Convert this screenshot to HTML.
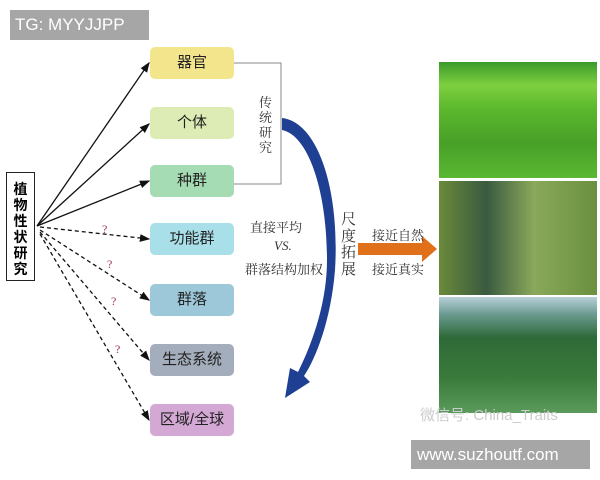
<!DOCTYPE html>
<html><head><meta charset="utf-8"><style>
body{margin:0;width:600px;height:480px;background:#fff;position:relative;overflow:hidden;font-family:"Liberation Serif","Noto Serif CJK SC","Noto Sans CJK SC",serif;}
.b{position:absolute;left:150px;width:84px;height:32px;border-radius:5px;text-align:center;line-height:32px;font-size:15px;color:#222;font-family:"Liberation Sans","Noto Sans CJK SC",sans-serif;}
.t{position:absolute;font-size:13px;color:#333;white-space:nowrap;}
</style></head><body>
<div style="position:absolute;left:10px;top:10px;width:139px;height:30px;background:#a6a6a6;color:#fff;font:17px 'Liberation Sans',sans-serif;line-height:30px;padding-left:5px;box-sizing:border-box">TG: MYYJJPP</div>
<div style="position:absolute;left:6px;top:172px;width:29px;height:109px;border:1.5px solid #222;box-sizing:border-box;font-size:14px;font-weight:bold;line-height:16px;text-align:center;padding-top:8px;font-family:'Noto Sans CJK SC',sans-serif">植<br>物<br>性<br>状<br>研<br>究</div>
<div class="b" style="top:47px;background:#f3e58c">器官</div>
<div class="b" style="top:107px;background:#dcecb4">个体</div>
<div class="b" style="top:165px;background:#a6dcb4">种群</div>
<div class="b" style="top:223px;background:#a8dfe8">功能群</div>
<div class="b" style="top:284px;background:#9cc8da">群落</div>
<div class="b" style="top:344px;background:#a4adbc">生态系统</div>
<div class="b" style="top:404px;background:#d4a8d4">区域/全球</div>
<svg width="600" height="480" style="position:absolute;left:0;top:0">
<defs><marker id="a" markerWidth="8" markerHeight="8" refX="7" refY="4" orient="auto"><path d="M0,1 L8,4 L0,7z" fill="#111"/></marker></defs>
<g stroke="#111" stroke-width="1.3" fill="none">
<line x1="37" y1="226" x2="149" y2="63" marker-end="url(#a)"/>
<line x1="37" y1="226" x2="149" y2="124" marker-end="url(#a)"/>
<line x1="37" y1="226" x2="149" y2="181" marker-end="url(#a)"/>
<g stroke-dasharray="4,3">
<line x1="40" y1="227" x2="149" y2="239" marker-end="url(#a)"/>
<line x1="40" y1="230" x2="149" y2="300" marker-end="url(#a)"/>
<line x1="40" y1="232" x2="149" y2="360" marker-end="url(#a)"/>
<line x1="40" y1="234" x2="149" y2="420" marker-end="url(#a)"/>
</g>
</g>
<g fill="#a03050" font-size="12" font-family="Liberation Serif">
<text x="102" y="233">?</text><text x="107" y="268">?</text><text x="111" y="305">?</text><text x="115" y="353">?</text>
</g>
<path d="M234,63 L281,63 L281,184 L234,184" fill="none" stroke="#888" stroke-width="1"/>
<path d="M282,118 C318,122 340,190 335,270 C331,320 316,358 304,376 L310,382 L285,398 L290,368 L298,372 C314,340 327,300 327,260 C327,190 308,135 282,130 Z" fill="#1e3f92"/>
<path d="M358,243 L422,243 L422,236 L437,249 L422,262 L422,255 L358,255 Z" fill="#e0701a"/>
</svg>
<div class="t" style="left:259px;top:95px;width:14px;line-height:15px">传<br>统<br>研<br>究</div>
<div class="t" style="left:250px;top:217px">直接平均</div>
<div class="t" style="left:274px;top:238px;font-style:italic;font-family:'Liberation Serif',serif">VS.</div>
<div class="t" style="left:245px;top:259px">群落结构加权</div>
<div class="t" style="left:341px;top:212px;width:15px;line-height:16.5px;font-size:15px">尺<br>度<br>拓<br>展</div>
<div class="t" style="left:372px;top:225px">接近自然</div>
<div class="t" style="left:372px;top:259px">接近真实</div>
<div style="position:absolute;left:439px;top:62px;width:158px;height:116px;background:linear-gradient(#3a9a2a,#7ed040 20%,#5cb82c 40%,#48a028 70%,#5ab832)"></div>
<div style="position:absolute;left:439px;top:181px;width:158px;height:114px;background:linear-gradient(90deg,#6a8a3a,#3a5a40 30%,#8aa85a 60%,#6a9040);"></div>
<div style="position:absolute;left:439px;top:297px;width:158px;height:116px;background:linear-gradient(#b8d0d8,#6a9a90 15%,#2e6a38 35%,#3a7a3a 70%,#5a9a5a)"></div>
<div style="position:absolute;left:420px;top:404px;font:15px 'Liberation Sans','Noto Sans CJK SC',sans-serif;color:#ccc">微信号: China_Traits</div>
<div style="position:absolute;left:411px;top:440px;width:179px;height:29px;background:#a6a6a6;color:#fff;font:17px 'Liberation Sans',sans-serif;line-height:29px;padding-left:6px;box-sizing:border-box">www.suzhoutf.com</div>
</body></html>
